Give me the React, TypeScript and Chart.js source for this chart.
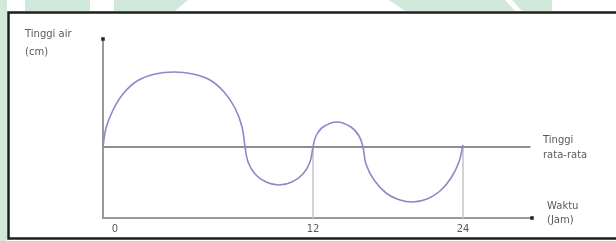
import React, { useEffect, useRef } from "react";
import { Chart, registerables } from "chart.js";

Chart.register(...registerables);

// Tide curve (schematic time units along the axis, height relative to the mean level)
const timeX = [0, 0.2, 0.67, 1.33, 2.27, 3.47, 4.73, 6.0, 7.13, 8.07, 8.8, 9.27, 9.47, 9.67, 10.13, 10.87, 11.73, 12.6, 13.33, 13.8, 14.0, 14.2, 14.67, 15.6, 16.53, 17.07, 17.33, 17.53, 18.07, 18.87, 19.8, 20.67, 21.6, 22.47, 23.2, 23.73, 24.0];
const heightY = [0, 1.9, 3.7, 5.3, 6.6, 7.3, 7.5, 7.3, 6.7, 5.5, 3.9, 2.0, 0, -1.5, -2.7, -3.5, -3.8, -3.5, -2.7, -1.5, 0, 1.1, 2.0, 2.5, 2.0, 1.1, 0, -1.7, -3.3, -4.6, -5.3, -5.5, -5.2, -4.4, -3.1, -1.5, 0.2];

// Mean level line
const meanX = [0, 28.5];
const meanY = [0, 0];

// Tick positions on the time axis and their labels
const tickPositions = [0.8, 14, 24];
const tickLabels = ["0", "12", "24"];

// Vertical guide lines
const guideX = [14, 24];

// Axis ranges
const X_MAX = 28.6;
const Y_MIN = -7.1;
const Y_MAX = 10.8;

// Texts
const yTitle = ["Tinggi air", "(cm)"];
const meanLabel = ["Tinggi", "rata-rata"];
const xTitle = ["Waktu", "(Jam)"];

const FONT = '10px "DejaVu Sans"';

const decorPlugin = {
  id: "decor",
  beforeDraw(chart: any) {
    const ctx = chart.ctx;
    const W = chart.width;
    const H = chart.height;
    ctx.save();
    ctx.fillStyle = "#ffffff";
    ctx.fillRect(0, 0, W, H);
    // watermark bits outside the frame
    ctx.fillStyle = "#d2e8da";
    ctx.fillRect(0, 0, 7, H);
    ctx.beginPath();
    ctx.moveTo(25, 0); ctx.lineTo(90, 0); ctx.lineTo(90, 11); ctx.lineTo(25, 11); ctx.closePath();
    ctx.fill();
    ctx.beginPath();
    ctx.moveTo(114, 0); ctx.lineTo(188, 0); ctx.lineTo(175, 11); ctx.lineTo(114, 11); ctx.closePath();
    ctx.fill();
    ctx.beginPath();
    ctx.moveTo(389, 0); ctx.lineTo(505, 0); ctx.lineTo(515, 11); ctx.lineTo(405, 11); ctx.closePath();
    ctx.fill();
    ctx.beginPath();
    ctx.moveTo(512, 0); ctx.lineTo(552, 0); ctx.lineTo(552, 11); ctx.lineTo(522, 11); ctx.closePath();
    ctx.fill();
    // frame
    ctx.strokeStyle = "#1e1e1e";
    ctx.lineWidth = 2.5;
    ctx.beginPath();
    ctx.moveTo(W + 5, 12.5);
    ctx.lineTo(8.5, 12.5);
    ctx.lineTo(8.5, 238.5);
    ctx.lineTo(W + 5, 238.5);
    ctx.stroke();
    ctx.restore();
  },
  afterDraw(chart: any) {
    const ctx = chart.ctx;
    const xs = chart.scales.x;
    const ys = chart.scales.y;
    const ca = chart.chartArea;
    ctx.save();
    ctx.font = FONT;
    ctx.fillStyle = "#5a5a5a";
    ctx.textAlign = "left";
    ctx.textBaseline = "middle";
    ctx.fillText(yTitle[0], 25, ca.top - 5);
    ctx.fillText(yTitle[1], 25, ca.top + 13);
    const meanPx = ys.getPixelForValue(0);
    const endPx = xs.getPixelForValue(X_MAX);
    ctx.fillText(meanLabel[0], endPx + 11, meanPx - 7);
    ctx.fillText(meanLabel[1], endPx + 11, meanPx + 8);
    ctx.fillText(xTitle[0], endPx + 15, ca.bottom - 12);
    ctx.fillText(xTitle[1], endPx + 15, ca.bottom + 2);
    ctx.restore();
  },
};

export default function App() {
  const ref = useRef<HTMLCanvasElement | null>(null);

  useEffect(() => {
    if (!ref.current) return;
    const curve = timeX.map((x, i) => ({ x, y: heightY[i] }));
    const mean = meanX.map((x, i) => ({ x, y: meanY[i] }));
    const guides = guideX.map((gx) => ({
      data: [{ x: gx, y: 0 }, { x: gx, y: Y_MIN }],
      borderColor: "#cccccc",
      borderWidth: 1,
      pointRadius: 0,
      tension: 0,
      clip: false as any,
    }));
    const chart = new Chart(ref.current, {
      type: "line",
      data: {
        datasets: [
          {
            data: [{ x: 0, y: Y_MAX }, { x: X_MAX, y: Y_MIN }],
            showLine: false,
            pointStyle: "rect",
            pointRadius: 2.5,
            pointBackgroundColor: "#222222",
            pointBorderWidth: 0,
            clip: false as any,
          },
          {
            data: curve,
            borderColor: "#8c88c8",
            borderWidth: 1.6,
            pointRadius: 0,
            tension: 0.4,
            fill: false,
            clip: false as any,
          },
          {
            data: mean,
            borderColor: "#8e8e8e",
            borderWidth: 2,
            pointRadius: 0,
            tension: 0,
            clip: false as any,
          },
          ...guides,
        ] as any,
      },
      options: {
        animation: false,
        responsive: false,
        maintainAspectRatio: false,
        events: [],
        layout: { padding: { left: 103, top: 39, right: 84, bottom: 0 } },
        plugins: { legend: { display: false }, tooltip: { enabled: false } },
        scales: {
          x: {
            type: "linear",
            min: 0,
            max: X_MAX,
            grid: { display: false, drawTicks: false },
            border: { display: true, color: "#999999", width: 2 },
            ticks: {
              padding: 5,
              autoSkip: false,
              maxRotation: 0,
              color: "#5a5a5a",
              font: { family: "DejaVu Sans", size: 10 },
              callback: (v: any, i: number) => tickLabels[i],
            },
            afterBuildTicks: (s: any) => {
              s.ticks = tickPositions.map((v) => ({ value: v }));
            },
            afterFit: (s: any) => {
              s.height = 23;
            },
          },
          y: {
            type: "linear",
            min: Y_MIN,
            max: Y_MAX,
            grid: { display: false, drawTicks: false },
            border: { display: true, color: "#999999", width: 2 },
            ticks: { display: false },
            afterFit: (s: any) => {
              s.width = 0;
            },
          },
        },
      } as any,
      plugins: [decorPlugin],
    });
    return () => chart.destroy();
  }, []);

  return (
    <div style={{ position: "fixed", left: 0, top: 0, width: 616, height: 241 }}>
      <canvas ref={ref} width={616} height={241} style={{ display: "block" }} />
    </div>
  );
}
